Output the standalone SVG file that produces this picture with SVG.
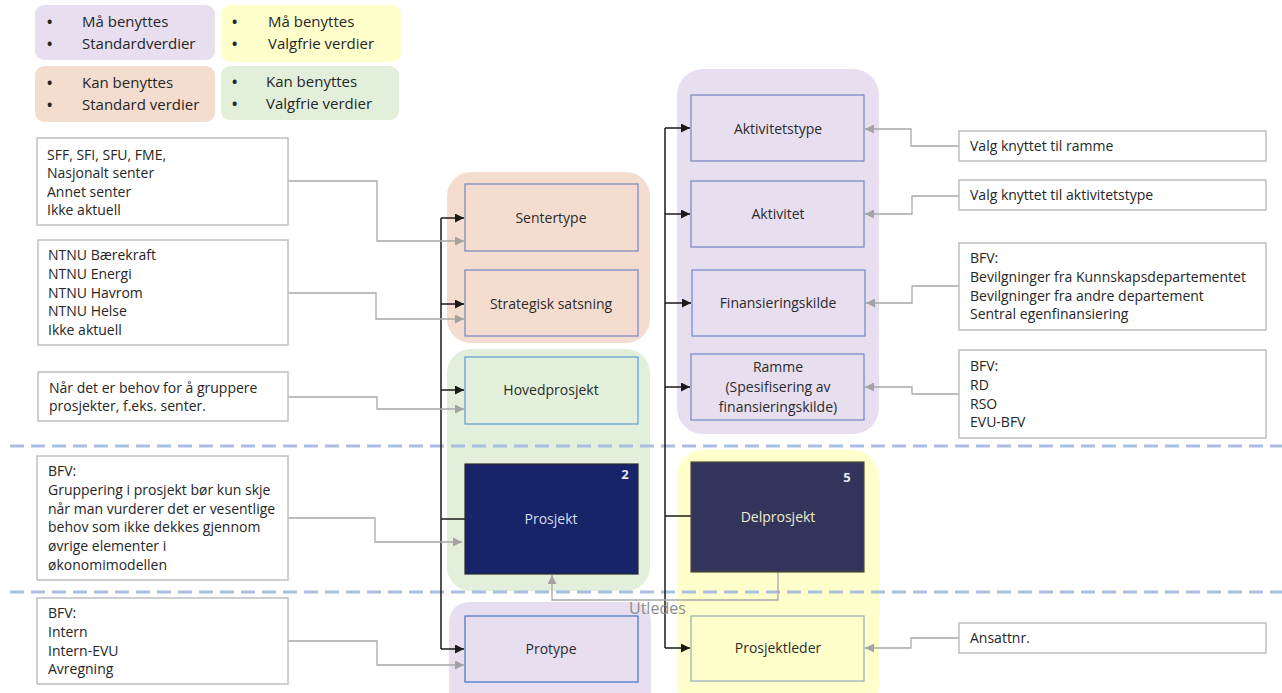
<svg xmlns="http://www.w3.org/2000/svg" width="1282" height="693" viewBox="0 0 1282 693">
<defs>
<marker id="ab" viewBox="0 0 10 10" refX="10" refY="5" markerWidth="9" markerHeight="9" markerUnits="userSpaceOnUse" orient="auto"><path d="M0,0 L10,5 L0,10 z" fill="#1a1a1a"/></marker>
<marker id="ag" viewBox="0 0 10 10" refX="10" refY="5" markerWidth="9" markerHeight="9" markerUnits="userSpaceOnUse" orient="auto"><path d="M0,0 L10,5 L0,10 z" fill="#a3a3a3"/></marker>
</defs>
<style>
text{font-family:"Open Sans","Noto Sans","DejaVu Sans",sans-serif;}
.leg{font-size:15px;fill:#262626;}
.bul{font-size:14px;font-weight:bold;fill:#262626;}
.tb{font-size:14px;fill:#262626;}
.nl{font-size:14px;fill:#2b2b2b;text-anchor:middle;}
.box{fill:#fff;stroke:#bfbfbf;stroke-width:1.5;}
.nd{stroke:#7186c4;stroke-width:1.2;}
.blk{fill:none;stroke:#1a1a1a;stroke-width:1.5;}
.gry{fill:none;stroke:#a8a8a8;stroke-width:1.3;}
.dash{stroke:#a8bfe2;stroke-width:3;stroke-dasharray:14 7;}
</style>
<rect width="1282" height="693" fill="#fff"/>

<g id="legend">
<rect x="35" y="5" width="180" height="55" rx="9" fill="#e7def0"/>
<rect x="221" y="5" width="180" height="57" rx="9" fill="#ffffcc"/>
<rect x="35" y="66" width="180" height="56" rx="9" fill="#f4ddcf"/>
<rect x="221" y="66" width="178" height="54" rx="9" fill="#e2efda"/>
<text class="bul" x="47" y="27">•</text><text class="leg" x="82" y="27">Må benyttes</text>
<text class="bul" x="47" y="49">•</text><text class="leg" x="82" y="49">Standardverdier</text>
<text class="bul" x="232" y="27">•</text><text class="leg" x="268" y="27">Må benyttes</text>
<text class="bul" x="232" y="49">•</text><text class="leg" x="268" y="49">Valgfrie verdier</text>
<text class="bul" x="47" y="88">•</text><text class="leg" x="82" y="88">Kan benyttes</text>
<text class="bul" x="47" y="110">•</text><text class="leg" x="82" y="110">Standard verdier</text>
<text class="bul" x="232" y="87">•</text><text class="leg" x="266" y="87">Kan benyttes</text>
<text class="bul" x="232" y="109">•</text><text class="leg" x="266" y="109">Valgfrie verdier</text>
</g>

<g id="groups">
<rect x="447" y="172" width="203" height="171" rx="24" fill="#f4ddcf"/>
<rect x="447" y="349" width="203" height="242" rx="24" fill="#e2efda"/>
<rect x="449" y="602" width="202" height="110" rx="20" fill="#e7def0"/>
<rect x="677" y="69" width="202" height="365" rx="26" fill="#e7def0"/>
<rect x="677" y="450" width="202" height="262" rx="26" fill="#ffffcc"/>
</g>

<g id="dividers">
<line class="dash" x1="10" y1="446" x2="1282" y2="446"/>
<line class="dash" x1="10" y1="592" x2="1282" y2="592"/>
</g>

<g id="connectors">
<path class="blk" d="M441,218 V649"/>
<path class="blk" d="M441,218 H464" marker-end="url(#ab)"/>
<path class="blk" d="M441,304 H464" marker-end="url(#ab)"/>
<path class="blk" d="M441,390 H464" marker-end="url(#ab)"/>
<path class="blk" d="M441,519 H465"/>
<path class="blk" d="M441,649 H464" marker-end="url(#ab)"/>
<path class="blk" d="M665,128 V648"/>
<path class="blk" d="M665,128 H690" marker-end="url(#ab)"/>
<path class="blk" d="M665,214 H690" marker-end="url(#ab)"/>
<path class="blk" d="M665,303 H691" marker-end="url(#ab)"/>
<path class="blk" d="M665,387 H690" marker-end="url(#ab)"/>
<path class="blk" d="M665,516 H691"/>
<path class="blk" d="M665,648 H690" marker-end="url(#ab)"/>

<path class="gry" d="M288,181 H377 V241 H464" marker-end="url(#ag)"/>
<path class="gry" d="M288,293 H376 V319 H464" marker-end="url(#ag)"/>
<path class="gry" d="M288,397 H377 V409 H464" marker-end="url(#ag)"/>
<path class="gry" d="M288,518 H375 V542 H462" marker-end="url(#ag)"/>
<path class="gry" d="M288,641 H377 V665 H464" marker-end="url(#ag)"/>
<path class="gry" d="M959,146 H911 V129 H865" marker-end="url(#ag)"/>
<path class="gry" d="M959,196 H912 V214 H865" marker-end="url(#ag)"/>
<path class="gry" d="M959,286 H912 V303 H866" marker-end="url(#ag)"/>
<path class="gry" d="M959,394 H912 V387 H865" marker-end="url(#ag)"/>
<path class="gry" d="M959,638 H911 V648 H865" marker-end="url(#ag)"/>
<path class="gry" d="M778,572 V600 H552 V575" marker-end="url(#ag)"/>
<text x="629" y="614" style="font-size:16px;fill:#8c8c8c;">Utledes</text>
</g>

<g id="n-sentertype"><rect class="nd" x="465" y="184" width="173" height="67" fill="#f4ddcf"/><text class="nl" x="551" y="223">Sentertype</text></g>
<g id="n-strategisk"><rect class="nd" x="465" y="270" width="173" height="66" fill="#f4ddcf"/><text class="nl" x="551" y="309">Strategisk satsning</text></g>
<g id="n-hovedprosjekt"><rect x="465" y="357" width="173" height="67" fill="#e2efda" stroke="#5b9bd5" stroke-width="1.2"/><text class="nl" x="551" y="395">Hovedprosjekt</text></g>
<g id="n-prosjekt"><rect x="465" y="464" width="173" height="110" fill="#172469" stroke="#2a2a2a" stroke-width="1.2"/><text class="nl" x="551" y="524" style="fill:#d6deee">Prosjekt</text><text x="625" y="479" style="font-size:13px;font-weight:bold;fill:#e8e8f0;text-anchor:middle">2</text></g>
<g id="n-protype"><rect x="465" y="616" width="173" height="66" fill="#e7def0" stroke="#4472c4" stroke-width="1.2"/><text class="nl" x="551" y="654">Protype</text></g>

<g id="n-aktivitetstype"><rect class="nd" x="691" y="95" width="173" height="66" fill="#e7def0"/><text class="nl" x="778" y="134">Aktivitetstype</text></g>
<g id="n-aktivitet"><rect class="nd" x="691" y="181" width="173" height="66" fill="#e7def0"/><text class="nl" x="778" y="219">Aktivitet</text></g>
<g id="n-finansieringskilde"><rect class="nd" x="692" y="270" width="173" height="66" fill="#e7def0"/><text class="nl" x="778" y="308">Finansieringskilde</text></g>
<g id="n-ramme"><rect class="nd" x="691" y="354" width="173" height="66" fill="#e7def0"/><text class="nl" x="778" y="372">Ramme</text><text class="nl" x="778" y="392">(Spesifisering av</text><text class="nl" x="778" y="412">finansieringskilde)</text></g>
<g id="n-delprosjekt"><rect x="691" y="462" width="173" height="110" fill="#33345c" stroke="#4d4d2a" stroke-width="1.2"/><text class="nl" x="778" y="522" style="fill:#efecc8">Delprosjekt</text><text x="847" y="482" style="font-size:13px;font-weight:bold;fill:#e8e8f0;text-anchor:middle">5</text></g>
<g id="n-prosjektleder"><rect x="691" y="616" width="173" height="65" fill="#ffffcc" stroke="#8faab8" stroke-width="1.2"/><text class="nl" x="778" y="653">Prosjektleder</text></g>

<g id="t-senter"><rect class="box" x="37" y="138" width="251" height="87"/>
<text class="tb" x="47" y="160">SFF, SFI, SFU, FME,</text><text class="tb" x="47" y="178">Nasjonalt senter</text><text class="tb" x="47" y="197">Annet senter</text><text class="tb" x="47" y="215">Ikke aktuell</text></g>
<g id="t-satsning"><rect class="box" x="38" y="240" width="250" height="105"/>
<text class="tb" x="48" y="260">NTNU Bærekraft</text><text class="tb" x="48" y="279">NTNU Energi</text><text class="tb" x="48" y="298">NTNU Havrom</text><text class="tb" x="48" y="316">NTNU Helse</text><text class="tb" x="48" y="335">Ikke aktuell</text></g>
<g id="t-hoved"><rect class="box" x="38" y="372" width="250" height="49"/>
<text class="tb" x="49" y="393">Når det er behov for å gruppere</text><text class="tb" x="49" y="411">prosjekter, f.eks. senter.</text></g>
<g id="t-prosjekt"><rect class="box" x="37" y="456" width="251" height="124"/>
<text class="tb" x="48" y="476">BFV:</text><text class="tb" x="48" y="495">Gruppering i prosjekt bør kun skje</text><text class="tb" x="48" y="514">når man vurderer det er vesentlige</text><text class="tb" x="48" y="532">behov som ikke dekkes gjennom</text><text class="tb" x="48" y="551">øvrige elementer i</text><text class="tb" x="48" y="570">økonomimodellen</text></g>
<g id="t-protype"><rect class="box" x="37" y="598" width="251" height="86"/>
<text class="tb" x="48" y="618">BFV:</text><text class="tb" x="48" y="637">Intern</text><text class="tb" x="48" y="656">Intern-EVU</text><text class="tb" x="48" y="674">Avregning</text></g>

<g id="t-ramme"><rect class="box" x="959" y="131" width="307" height="30"/><text class="tb" x="970" y="151">Valg knyttet til ramme</text></g>
<g id="t-akttype"><rect class="box" x="959" y="180" width="307" height="30"/><text class="tb" x="970" y="200">Valg knyttet til aktivitetstype</text></g>
<g id="t-finans"><rect class="box" x="959" y="243" width="307" height="87"/>
<text class="tb" x="970" y="263">BFV:</text><text class="tb" x="970" y="282">Bevilgninger fra Kunnskapsdepartementet</text><text class="tb" x="970" y="301">Bevilgninger fra andre departement</text><text class="tb" x="970" y="319">Sentral egenfinansiering</text></g>
<g id="t-rd"><rect class="box" x="959" y="350" width="307" height="88"/>
<text class="tb" x="970" y="371">BFV:</text><text class="tb" x="970" y="390">RD</text><text class="tb" x="970" y="409">RSO</text><text class="tb" x="970" y="427">EVU-BFV</text></g>
<g id="t-ansatt"><rect class="box" x="959" y="623" width="307" height="30"/><text class="tb" x="970" y="643">Ansattnr.</text></g>
</svg>
